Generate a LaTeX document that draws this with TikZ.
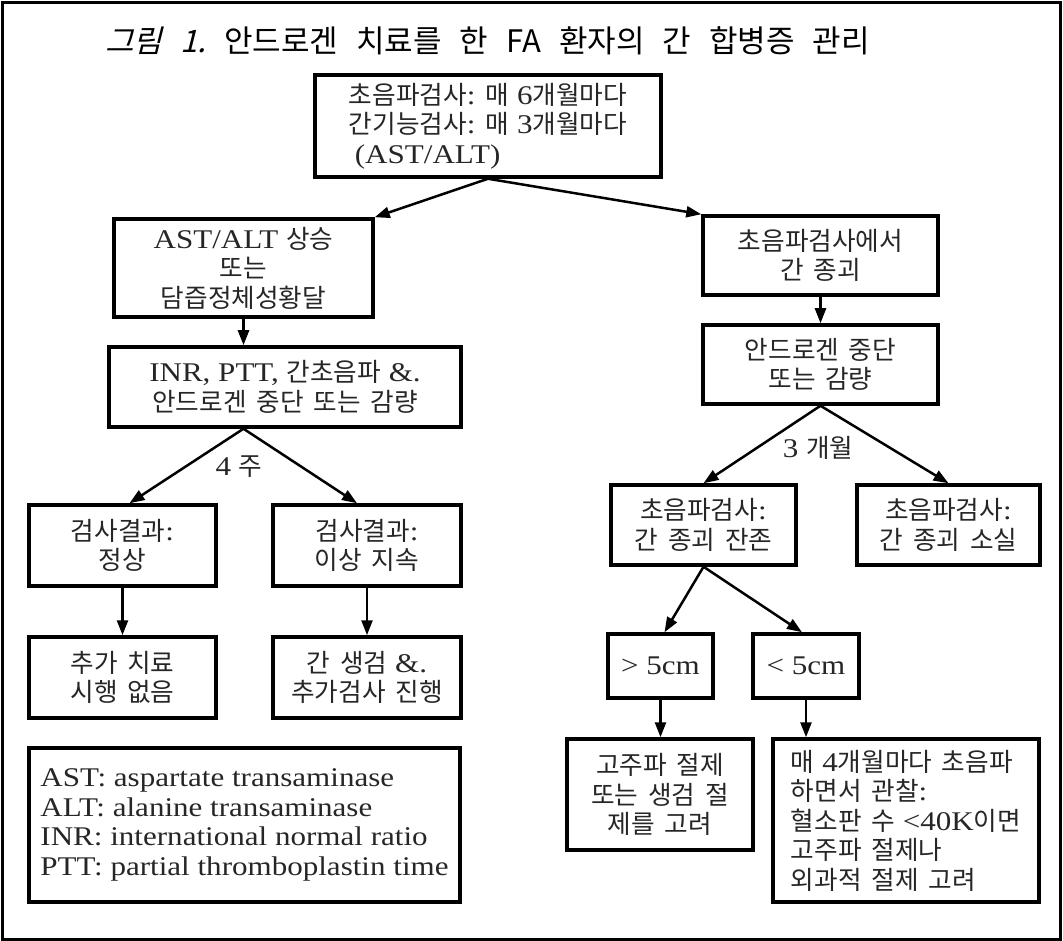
\documentclass[tikz,border=0pt]{standalone}
\usepackage{fontspec}
\setmainfont{Liberation Serif}[FakeStretch=1.15]
\newfontfamily\K[Scale=0.95,WordSpace=1.7]{Noto Sans CJK KR}
\newfontfamily\T[WordSpace=2.6]{Noto Sans CJK KR}
\newfontfamily\TS[FakeSlant=0.25,WordSpace=2.6]{Noto Sans CJK KR}
\usetikzlibrary{arrows.meta,calc}
\tikzset{
  every node/.style={font=\fontsize{27}{29.5}\selectfont, text=black!85},
  box/.style={draw=black, line width=3.5, inner sep=0pt, align=center},
  arr/.style={line width=2.5, -{Triangle[length=15pt,width=11pt]}},
  lbl/.style={inner sep=0pt}
}
\begin{document}
\begin{tikzpicture}[x=1pt,y=-1pt]
\useasboundingbox (0,0) rectangle (1063,941);
\draw[line width=3] (2.5,2.5) rectangle (1060,939);
% title
\node[anchor=base west, inner sep=0pt, font=\fontsize{31}{34}\selectfont, text=black] (title) at (105,53)
  {\TS 그림 1.\T\ 안드로겐 치료를 한 FA 환자의 간 합병증 관리};
% nodes
\node[box, minimum width=346, minimum height=102, align=left] (top) at (488,126)
  {{\K 초음파검사}: {\K 매} 6{\K 개월마다}\\{\K 간기능검사}: {\K 매} 3{\K 개월마다}\\\hspace*{6pt}(AST/ALT)};
\node[box, minimum width=259, minimum height=98] (ast) at (243.5,268)
  {AST/ALT {\K 상승}\\{\K 또는}\\{\K 담즙정체성황달}};
\node[box, minimum width=352, minimum height=80] (inr) at (285,387)
  {INR, PTT, {\K 간초음파} \&.\\{\K 안드로겐 중단 또는 감량}};
\node[box, minimum width=187, minimum height=81] (normal) at (122.5,545.5)
  {{\K 검사결과}:\\{\K 정상}};
\node[box, minimum width=188, minimum height=81] (abn) at (367,545.5)
  {{\K 검사결과}:\\{\K 이상 지속}};
\node[box, minimum width=187, minimum height=81] (none) at (122.5,677.5)
  {{\K 추가 치료}\\{\K 시행 없음}};
\node[box, minimum width=188, minimum height=81] (biopsy) at (367,677.5)
  {{\K 간 생검} \&.\\{\K 추가검사 진행}};
\node[box, minimum width=431, minimum height=154, align=left] (legend) at (244.5,825)
  {AST: aspartate transaminase\\ALT: alanine transaminase\\INR: international normal ratio\\PTT: partial thromboplastin time};
\node[box, minimum width=235, minimum height=79] (us) at (820.5,255.5)
  {{\K 초음파검사에서}\\{\K 간 종괴}};
\node[box, minimum width=235, minimum height=79] (andro) at (820.5,364.5)
  {{\K 안드로겐 중단}\\{\K 또는 감량}};
\node[box, minimum width=185, minimum height=80] (remain) at (703.5,525)
  {{\K 초음파검사}:\\{\K 간 종괴 잔존}};
\node[box, minimum width=183, minimum height=80] (vanish) at (948.5,525)
  {{\K 초음파검사}:\\{\K 간 종괴 소실}};
\node[box, minimum width=105, minimum height=64] (gt) at (660.5,666) {> 5cm};
\node[box, minimum width=106, minimum height=64] (lt) at (806,666) {< 5cm};
\node[box, minimum width=186, minimum height=111] (rfa) at (660,794.5)
  {{\K 고주파 절제}\\{\K 또는 생검 절}\\{\K 제를 고려}};
\node[box, minimum width=266, minimum height=163, align=left] (obs) at (906,820.5)
  {{\K 매} 4{\K 개월마다 초음파}\\{\K 하면서 관찰}:\\{\K 혈소판 수} <40K{\K 이면}\\{\K 고주파 절제나}\\{\K 외과적 절제 고려}};
% labels
\node[lbl] (l4) at (239,467) {4 {\K 주}};
\node[lbl] (l3) at (818,448) {3 {\K 개월}};
% connectors
\draw[arr] (top.south) -- (ast.north east);
\draw[arr] (top.south) -- (us.north west);
\draw[arr] (ast.south) -- (ast.south |- inr.north);
\coordinate (inrs) at (ast.south |- inr.south);
\draw[arr] (inrs) -- ($(normal.north)+(7,0)$);
\draw[arr] (inrs) -- ($(abn.north)+(-10,0)$);
\draw[arr] (normal.south) -- (none.north);
\draw[arr] (abn.south) -- (biopsy.north);
\draw[arr] (us.south) -- (andro.north);
\draw[arr] (andro.south) -- (remain.north);
\draw[arr] (andro.south) -- (vanish.north);
\draw[arr] (remain.south) -- ($(gt.north)+(4,0)$);
\draw[arr] (remain.south) -- ($(lt.north)+(-4,0)$);
\draw[arr] (gt.south) -- (gt.south |- rfa.north);
\draw[arr] (lt.south) -- (lt.south |- obs.north);
\end{tikzpicture}
\end{document}
